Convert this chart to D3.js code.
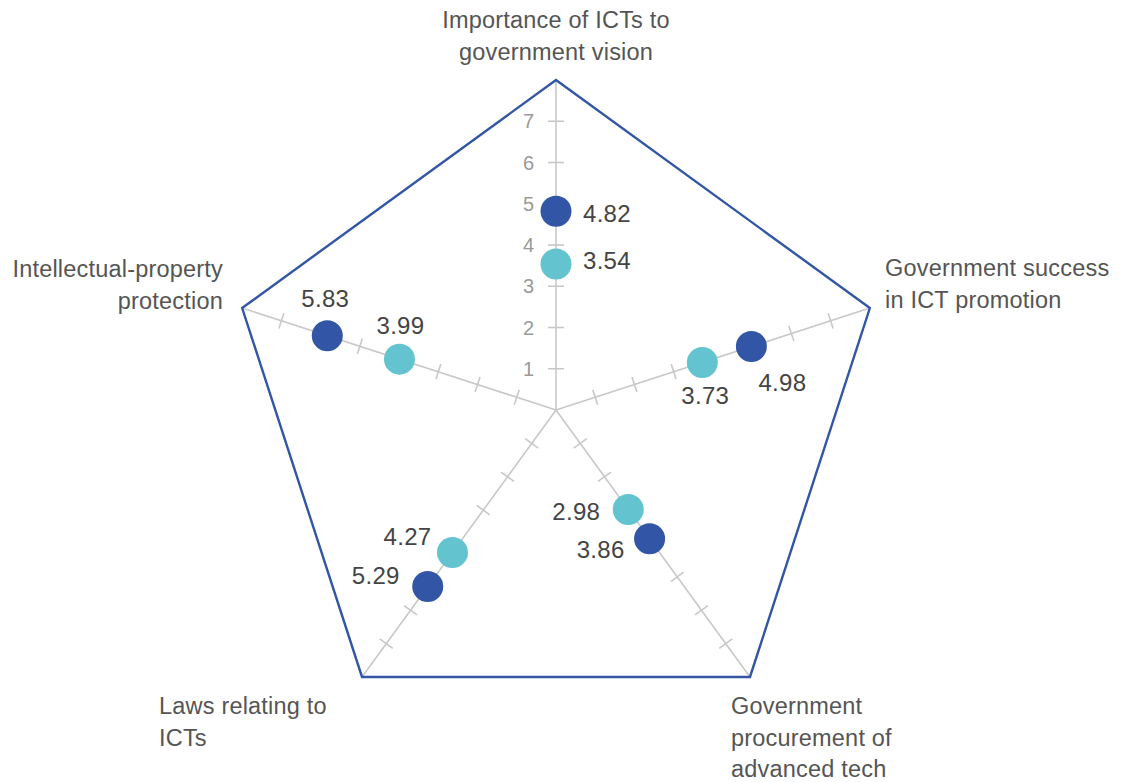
<!DOCTYPE html>
<html>
<head>
<meta charset="utf-8">
<script src="https://cdn.jsdelivr.net/npm/d3@7"></script>
<style>
  html, body { margin: 0; padding: 0; background: #fff; }
  svg { display: block; }
  text { font-family: "Liberation Sans", Arial, sans-serif; }
</style>
</head>
<body>
<svg id="chart" width="1125" height="782"></svg>
<script>
// ---- data ----
const categories = [
  ["Importance of ICTs to", "government vision"],
  ["Government success", "in ICT promotion"],
  ["Government", "procurement of", "advanced tech"],
  ["Laws relating to", "ICTs"],
  ["Intellectual-property", "protection"]
];
const seriesDark = [4.82, 4.98, 3.86, 5.29, 5.83];
const seriesLight = [3.54, 3.73, 2.98, 4.27, 3.99];
const tickValues = [1, 2, 3, 4, 5, 6, 7];
const scaleMax = 8;

// ---- layout ----
const cx = 556, cy = 410, R = 330;
const colorDark = "#3256a5", colorLight = "#63c4d0";
const svg = d3.select("#chart");

const r = d3.scaleLinear().domain([0, scaleMax]).range([0, R]);
const angle = d3.scaleLinear().domain([0, categories.length]).range([-Math.PI / 2, 1.5 * Math.PI]);
const pt = (i, v) => [cx + r(v) * Math.cos(angle(i)), cy + r(v) * Math.sin(angle(i))];

// axes
const g = svg.append("g");
categories.forEach((c, i) => {
  const [x2, y2] = pt(i, scaleMax);
  g.append("line").attr("x1", cx).attr("y1", cy).attr("x2", x2).attr("y2", y2)
    .attr("stroke", "#c8c8c8").attr("stroke-width", 1.6);
  const a = angle(i);
  const nx = -Math.sin(a), ny = Math.cos(a);
  tickValues.forEach(t => {
    const [tx, ty] = pt(i, t);
    g.append("line")
      .attr("x1", tx - nx * 8).attr("y1", ty - ny * 8)
      .attr("x2", tx + nx * 8).attr("y2", ty + ny * 8)
      .attr("stroke", "#c8c8c8").attr("stroke-width", 1.6);
  });
});

// tick labels on top axis
tickValues.forEach(t => {
  const [tx, ty] = pt(0, t);
  svg.append("text").attr("x", tx - 22).attr("y", ty).attr("dy", "0.36em")
    .attr("text-anchor", "end").attr("font-size", 20).attr("fill", "#9a9a9a").text(t);
});

// outer pentagon
const outer = categories.map((c, i) => pt(i, scaleMax));
svg.append("path").attr("d", d3.line()(outer) + "Z")
  .attr("fill", "none").attr("stroke", colorDark).attr("stroke-width", 2.4)
  .attr("stroke-linejoin", "miter");

// axis labels
const catLayout = [
  { x: 556, y: 28, anchor: "middle" },
  { x: 885, y: 276, anchor: "start" },
  { x: 731, y: 714, anchor: "start" },
  { x: 159, y: 714, anchor: "start" },
  { x: 223, y: 277, anchor: "end" }
];
categories.forEach((lines, i) => {
  const L = catLayout[i];
  const t = svg.append("text").attr("x", L.x).attr("y", L.y)
    .attr("text-anchor", L.anchor).attr("font-size", 23.5).attr("fill", "#555")
    .attr("letter-spacing", 0.2);
  lines.forEach((s, k) => t.append("tspan").attr("x", L.x).attr("y", L.y + k * 31.7).text(s));
});

// label offsets relative to dot: [dx, dy, anchor]
const darkLabelPos = [[27, 2, "start"], [31, 36, "middle"], [-25, 11, "end"], [-28, -11, "end"], [-2, -37, "middle"]];
const lightLabelPos = [[27, -4, "start"], [3, 33, "middle"], [-28, 2, "end"], [-21, -16, "end"], [1, -34, "middle"]];

function drawSeries(vals, color, pos) {
  vals.forEach((v, i) => {
    const [x, y] = pt(i, v);
    svg.append("circle").attr("cx", x).attr("cy", y).attr("r", 15.5).attr("fill", color);
    const p = pos[i];
    svg.append("text").attr("x", x + p[0]).attr("y", y + p[1]).attr("dy", "0.36em")
      .attr("text-anchor", p[2]).attr("font-size", 24).attr("fill", "#444")
      .attr("letter-spacing", 0.3)
      .text(d3.format(".2f")(v));
  });
}
drawSeries(seriesLight, colorLight, lightLabelPos);
drawSeries(seriesDark, colorDark, darkLabelPos);
</script>
</body>
</html>
